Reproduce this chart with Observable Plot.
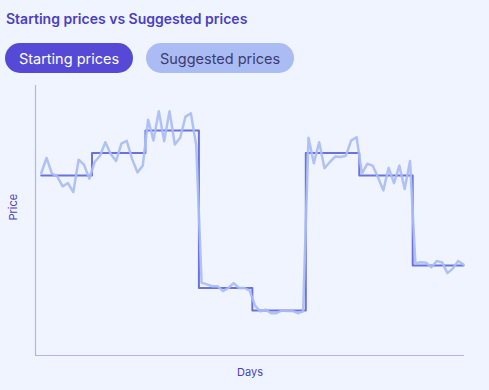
<!DOCTYPE html>
<html><head><meta charset="utf-8">
<script src="https://cdn.jsdelivr.net/npm/d3@7"></script>
<script src="https://cdn.jsdelivr.net/npm/@observablehq/plot@0.6"></script>
<style>
html,body{margin:0;padding:0;background:#f0f4ff;width:489px;height:390px;overflow:hidden;font-family:Inter,"Noto Sans",sans-serif;}
#title{position:absolute;left:6px;top:10px;font-size:14px;font-weight:600;color:#4b3fbf;white-space:nowrap;line-height:18px;}
.btn{position:absolute;top:43px;height:30px;border-radius:15px;display:flex;align-items:center;justify-content:center;font-size:14.5px;white-space:nowrap;}
#b1{left:5px;width:128px;background:#5549d6;color:#ffffff;}
#b2{left:146px;width:148px;background:#aabcf3;color:#3d3a70;}
#chart{position:absolute;left:0;top:80px;}
</style></head><body>
<div id="title">Starting prices vs Suggested prices</div>
<div class="btn" id="b1">Starting prices</div>
<div class="btn" id="b2">Suggested prices</div>
<div id="chart"></div>
<script>
const startingPrices = [
  40,40,40,40,40,40,40,40,40,40,
  45,45,45,45,45,45,45,45,45,45,
  50,50,50,50,50,50,50,50,50,50,
  15,15,15,15,15,15,15,15,15,15,
  10,10,10,10,10,10,10,10,10,10,
  45,45,45,45,45,45,45,45,45,45,
  40,40,40,40,40,40,40,40,40,40,
  20,20,20,20,20,20,20,20,20,20
];
const suggestedPrices = [
  40.5,43.9,40.4,39.8,37.6,38.3,36.3,43.5,42.4,39.3,
  43.0,44.4,47.4,44.8,43.2,47.1,47.7,43.7,40.7,42.2,
  52.4,47.8,54.3,47.6,54.3,46.9,48.4,53.1,53.8,46.7,
  16.2,15.8,15.4,15.4,14.3,15.0,16.1,15.0,15.0,14.4,
  11.1,9.8,10.2,9.4,9.4,10.0,9.9,9.9,9.4,9.8,
  48.4,42.7,47.4,41.6,43.0,44.2,44.1,44.4,47.8,48.5,
  40.4,42.6,42.2,39.6,36.7,41.7,38.3,42.2,37.0,43.2,
  20.5,20.7,20.6,19.6,21.0,20.7,18.3,19.3,21.0,20.2
];
const axisLabels = {x: "Days", y: "Price"};

const rows = startingPrices.map((s, i) => ({day: i, start: s, suggested: suggestedPrices[i]}));
const xDomain = [-1.07, 79.19];

const chart = Plot.plot({
  width: 489,
  height: 310,
  marginLeft: 35,
  marginRight: 25,
  marginTop: 5,
  marginBottom: 35,
  style: {background: "transparent", fontFamily: "Inter, sans-serif"},
  x: {domain: xDomain, axis: null},
  y: {domain: [0, 60], axis: null},
  marks: [
    Plot.ruleY([0], {stroke: "#aab8ee", strokeWidth: 1.2}),
    Plot.ruleX([xDomain[0]], {stroke: "#aab8ee", strokeWidth: 1.2}),
    Plot.line(rows, {x: "day", y: "start", curve: "step", stroke: "#6b72df", strokeWidth: 2}),
    Plot.line(rows, {x: "day", y: "suggested", stroke: "#a9bcf4", strokeWidth: 2.5, strokeOpacity: 0.92}),
    Plot.text([axisLabels.y], {frameAnchor: "left", rotate: -90, dx: -22, fill: "#4b3fbf", fontSize: 11}),
    Plot.text([axisLabels.x], {frameAnchor: "bottom", dy: 20, fill: "#4b3fbf", fontSize: 11})
  ]
});
document.getElementById("chart").appendChild(chart);
</script>
</body></html>
